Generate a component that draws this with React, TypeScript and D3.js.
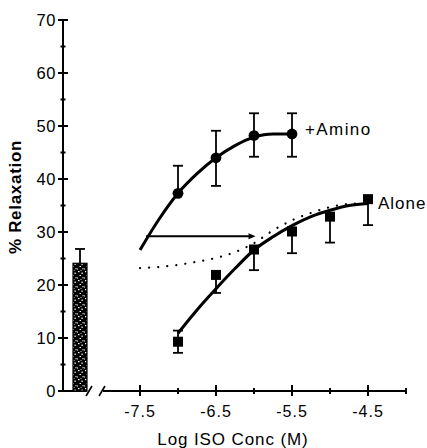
import React from "react";
import * as d3 from "d3";

// basal bar (no ISO)
const barLabels = ["basal"];
const barValues = [24.1];
const barErr = [26.8];

// ISO + amino: mean, upper and lower SEM ends
const aminoDoses = [-7, -6.5, -6, -5.5];
const aminoMean = [37.3, 44.0, 48.2, 48.5];
const aminoUp = [42.5, 49.1, 52.4, 52.4];
const aminoDown = [null, 38.7, 44.2, 44.2];

// ISO alone
const aloneDoses = [-7, -6.5, -6, -5.5, -5, -4.5];
const aloneMean = [9.3, 21.9, 26.7, 30.1, 32.9, 36.2];
const aloneUp = [11.4, null, null, null, null, null];
const aloneDown = [7.2, 18.5, 22.8, 26.0, 28.0, 31.3];

// fitted curves
const aminoFitX = [-7.5, -7.25, -7, -6.75, -6.5, -6.25, -6, -5.75, -5.5];
const aminoFitY = [26.6, 32.4, 37.3, 41.0, 44.0, 46.3, 47.9, 48.5, 48.5];
const aloneFitX = [-7, -6.75, -6.5, -6.25, -6, -5.75, -5.5, -5.25, -5, -4.75, -4.5];
const aloneFitY = [10.9, 15.3, 19.3, 23.1, 26.6, 29.1, 31.2, 32.9, 34.1, 35.0, 35.4];
const dotFitX = [-7.5, -7.25, -7, -6.75, -6.5, -6.25, -6, -5.75, -5.5, -5.25, -5, -4.75, -4.6];
const dotFitY = [23.2, 23.4, 23.8, 24.4, 25.1, 26.2, 27.9, 30.3, 32.2, 33.6, 34.7, 35.3, 35.4];

// shift arrow
const arrowFrom = -7.42;
const arrowTo = -5.98;
const arrowLevel = 29.2;

const yTicks = [0, 10, 20, 30, 40, 50, 60, 70];
const yMinor = [5, 15, 25, 35, 45, 55, 65];
const xTicks = [-7.5, -6.5, -5.5, -4.5];
const xMinor = [-7, -6, -5, -4];

const FONT = "'Liberation Sans', Arial, Helvetica, sans-serif";

export default function App() {
  const y = d3.scaleLinear().domain([0, 70]).range([391, 20]);
  const x = d3.scaleLinear().domain([-8, -4]).range([102, 406]);
  const xb = d3.scaleBand().domain(barLabels).range([66, 94]).padding(1 / 3);
  const axisX = 63;
  const y0 = y(0);

  const path = (xs: number[], ys: number[]) =>
    d3
      .line<number>()
      .x((d) => x(d))
      .y((d, i) => y(ys[i]))
      .curve(d3.curveMonotoneX)(xs) || "";

  const errBar = (cx: number, from: number, to: number | null, key: string) =>
    to == null ? null : (
      <g key={key}>
        <line x1={cx} x2={cx} y1={y(from)} y2={y(to)} stroke="#000" strokeWidth={1.8} />
        <line x1={cx - 5} x2={cx + 5} y1={y(to)} y2={y(to)} stroke="#000" strokeWidth={1.8} />
      </g>
    );

  const ax = x(arrowTo);
  const ay = y(arrowLevel);

  return (
    <svg width={427} height={448} style={{ position: "absolute", left: 0, top: 0, background: "#fff" }}>
      <defs>
        <pattern id="speck" width={7} height={9} patternUnits="userSpaceOnUse">
          <rect width={7} height={9} fill="#000" />
          <rect x={1} y={1} width={1.5} height={1.2} fill="#fff" />
          <rect x={4.5} y={2.5} width={1.2} height={1.5} fill="#fff" />
          <rect x={2.5} y={5} width={1.5} height={1} fill="#fff" />
          <rect x={5.5} y={7} width={1} height={1.3} fill="#fff" />
          <rect x={0} y={7.5} width={1} height={1} fill="#fff" />
          <rect x={3.5} y={0} width={1} height={0.8} fill="#fff" />
        </pattern>
      </defs>

      {/* y axis */}
      <line x1={axisX} x2={axisX} y1={y0} y2={y(70)} stroke="#000" strokeWidth={2} />
      {yTicks.map((t) => (
        <g key={"yt" + t}>
          <line x1={axisX - 5} x2={axisX + 5} y1={y(t)} y2={y(t)} stroke="#000" strokeWidth={2} />
          <text x={56} y={y(t) + 6} textAnchor="end" fontFamily={FONT} fontSize={16.5} letterSpacing={0.6}>
            {t}
          </text>
        </g>
      ))}
      {yMinor.map((t) => (
        <line key={"ym" + t} x1={axisX - 2.5} x2={axisX + 2.5} y1={y(t)} y2={y(t)} stroke="#000" strokeWidth={2} />
      ))}
      <text
        transform={`translate(21,197) rotate(-90)`}
        textAnchor="middle"
        fontFamily={FONT}
        fontWeight="bold"
        fontSize={17}
        letterSpacing={0.7}
      >
        % Relaxation
      </text>

      {/* x axis with break */}
      <line x1={axisX} x2={87} y1={y0} y2={y0} stroke="#000" strokeWidth={2} />
      <line x1={86} x2={92} y1={y0 + 5} y2={y0 - 5} stroke="#000" strokeWidth={1.6} />
      <line x1={99} x2={105} y1={y0 + 5} y2={y0 - 5} stroke="#000" strokeWidth={1.6} />
      <line x1={x(-8) + 1} x2={x(-4)} y1={y0} y2={y0} stroke="#000" strokeWidth={2} />
      {xTicks.map((t) => (
        <g key={"xt" + t}>
          <line x1={x(t)} x2={x(t)} y1={y0 - 6} y2={y0 + 5} stroke="#000" strokeWidth={2} />
          <text x={x(t)} y={417} textAnchor="middle" fontFamily={FONT} fontSize={16} letterSpacing={1}>
            {t}
          </text>
        </g>
      ))}
      {xMinor.map((t) => (
        <line key={"xm" + t} x1={x(t)} x2={x(t)} y1={y0 - 3} y2={y0 + 3} stroke="#000" strokeWidth={2} />
      ))}
      <text x={233} y={445} textAnchor="middle" fontFamily={FONT} fontSize={17} letterSpacing={0.9}>
        Log ISO Conc (M)
      </text>

      {/* basal bar */}
      {barLabels.map((b, i) => {
        const cx = (xb(b) as number) + xb.bandwidth() / 2;
        return (
          <g key={b}>
            {errBar(cx, barValues[i], barErr[i], "be" + i)}
            <rect
              x={xb(b)}
              y={y(barValues[i])}
              width={xb.bandwidth()}
              height={y0 - y(barValues[i])}
              fill="url(#speck)"
              stroke="#000"
              strokeWidth={1.2}
            />
          </g>
        );
      })}

      {/* dotted curve */}
      <path
        d={path(dotFitX, dotFitY)}
        fill="none"
        stroke="#000"
        strokeWidth={2.2}
        strokeLinecap="round"
        strokeDasharray="0.1 9"
      />

      {/* fitted curves */}
      <path d={path(aminoFitX, aminoFitY)} fill="none" stroke="#000" strokeWidth={3} />
      <path d={path(aloneFitX, aloneFitY)} fill="none" stroke="#000" strokeWidth={3} />

      {/* error bars */}
      {aminoDoses.map((d, i) => (
        <g key={"ae" + i}>
          {errBar(x(d), aminoMean[i], aminoUp[i], "aeu" + i)}
          {errBar(x(d), aminoMean[i], aminoDown[i], "aed" + i)}
        </g>
      ))}
      {aloneDoses.map((d, i) => (
        <g key={"le" + i}>
          {errBar(x(d), aloneMean[i], aloneUp[i], "leu" + i)}
          {errBar(x(d), aloneMean[i], aloneDown[i], "led" + i)}
        </g>
      ))}

      {/* markers */}
      {aminoDoses.map((d, i) => (
        <circle key={"am" + i} cx={x(d)} cy={y(aminoMean[i])} r={5.4} fill="#000" />
      ))}
      {aloneDoses.map((d, i) => (
        <rect key={"lm" + i} x={x(d) - 5} y={y(aloneMean[i]) - 5} width={10} height={10} fill="#000" />
      ))}

      {/* arrow */}
      <line x1={x(arrowFrom)} x2={ax - 4} y1={ay} y2={ay} stroke="#000" strokeWidth={2} />
      <path d={`M${ax},${ay} L${ax - 7},${ay - 3} L${ax - 7},${ay + 3} Z`} fill="#000" />

      {/* labels */}
      <text x={305} y={135} fontFamily={FONT} fontSize={17} letterSpacing={1.4}>
        +Amino
      </text>
      <text x={378} y={209} fontFamily={FONT} fontSize={17} letterSpacing={1}>
        Alone
      </text>
    </svg>
  );
}
